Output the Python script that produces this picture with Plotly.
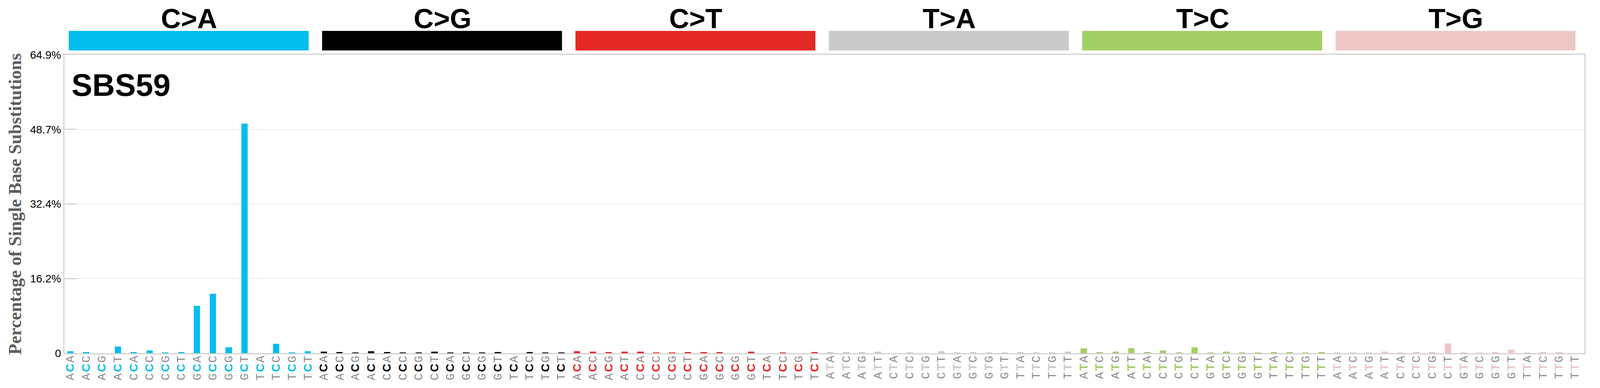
import plotly.graph_objects as go

# tipos de substituicao e cores (padrao SigProfiler)
mutation_types = ["C>A", "C>G", "C>T", "T>A", "T>C", "T>G"]
type_colors = ["#03BDEF", "#010101", "#E42926", "#CBCACA", "#A2CF63", "#ECC7C5"]
bases = ["A", "C", "G", "T"]

signature_name = "SBS59"

# percentuais (16 contextos por tipo)
vals_CA = [0.45, 0.28, 0.0, 1.47, 0.28, 0.62, 0.14, 0.28, 10.3, 12.9, 1.3, 49.9, 0.0, 2.06, 0.14, 0.45]
vals_CG = [0.37, 0.28, 0.14, 0.45, 0.28, 0.2, 0.14, 0.37, 0.2, 0.2, 0.14, 0.28, 0.0, 0.28, 0.11, 0.2]
vals_CT = [0.45, 0.37, 0.28, 0.37, 0.37, 0.11, 0.2, 0.28, 0.28, 0.28, 0.0, 0.37, 0.0, 0.11, 0.0, 0.28]
vals_TA = [0.28, 0.28, 0.28, 0.37, 0.0, 0.2, 0.0, 0.45, 0.11, 0.28, 0.11, 0.2, 0.28, 0.2, 0.11, 0.37]
vals_TC = [1.05, 0.28, 0.37, 1.13, 0.28, 0.62, 0.2, 1.3, 0.11, 0.37, 0.11, 0.2, 0.28, 0.28, 0.2, 0.28]
vals_TG = [0.2, 0.2, 0.2, 0.37, 0.11, 0.28, 0.28, 2.15, 0.2, 0.2, 0.28, 0.79, 0.2, 0.28, 0.28, 0.0]
all_vals = [vals_CA, vals_CG, vals_CT, vals_TA, vals_TC, vals_TG]

y_max = 64.9
ytick_text = ["0", "16.2%", "32.4%", "48.7%", "64.9%"]
ytick_vals = [y_max * i / 4 for i in range(5)]

label_gray = "#8a8a8a"

x = []
y = []
colors = []
ticktext = []
for g, mt in enumerate(mutation_types):
    ref = mt[0]
    for k, v in enumerate(all_vals[g]):
        five, three = bases[k // 4], bases[k % 4]
        x.append(g * 16 + k)
        y.append(v)
        colors.append(type_colors[g])
        ticktext.append(
            f"<span style='letter-spacing:4px'>{five}</span>"
            f"<span style='color:{type_colors[g]};font-family:Liberation Sans;font-weight:bold;letter-spacing:3px'>{ref}</span>"
            f"{three}"
        )

fig = go.Figure(go.Bar(x=x, y=y, marker=dict(color=colors, line=dict(width=0)), width=0.4, showlegend=False))

# faixas coloridas e rotulos dos tipos no topo
for g, mt in enumerate(mutation_types):
    fig.add_shape(type="rect", xref="x", yref="paper", x0=g * 16 - 0.1, x1=g * 16 + 15.05,
                  y0=1.0144, y1=1.08, fillcolor=type_colors[g], line=dict(width=0), layer="above")
    fig.add_annotation(x=g * 16 + 7.5, y=1.121, xref="x", yref="paper", text="<b>" + mt + "</b>",
                       showarrow=False, font=dict(family="Liberation Sans", size=71, color="black"),
                       yanchor="middle", borderpad=0)

fig.add_annotation(x=0.004, y=0.898, xref="paper", yref="paper", text="<b>" + signature_name + "</b>",
                   showarrow=False, xanchor="left", yanchor="middle",
                   font=dict(family="Liberation Sans", size=80, color="black"))

fig.update_xaxes(
    tickmode="array", tickvals=x, ticktext=ticktext, tickangle=-90,
    tickfont=dict(family="Liberation Mono", size=29, color=label_gray),
    ticklabelstandoff=-8,
    range=[-0.37, 95.61], showline=True, linecolor="#D3D3D3", linewidth=3, mirror=True,
    showgrid=False, zeroline=False, ticks="", automargin=False,
)
fig.update_yaxes(
    range=[0, y_max], tickmode="array", tickvals=ytick_vals, ticktext=ytick_text,
    tickfont=dict(family="Liberation Sans", size=28, color="black"),
    showline=True, linecolor="#D3D3D3", linewidth=3, mirror=True,
    showgrid=True, gridcolor="#EBEBEB", gridwidth=1.5, zeroline=False,
    ticks="inside", ticklen=31, tickwidth=3, tickcolor="#D3D3D3", automargin=False,
    title=dict(text="Percentage of Single Base Substitutions", standoff=8,
               font=dict(family="Liberation Serif", size=46, color="#5E5E5E", weight="bold")),
)

# a janela real do navegador tem 4096 px de largura (mais 8 px de margem do body)
fig.update_layout(
    width=4080, height=976,
    margin=dict(l=157, r=32, t=132, b=81),
    plot_bgcolor="white", paper_bgcolor="white",
    bargap=0,
)

fig.write_html("out.html")
